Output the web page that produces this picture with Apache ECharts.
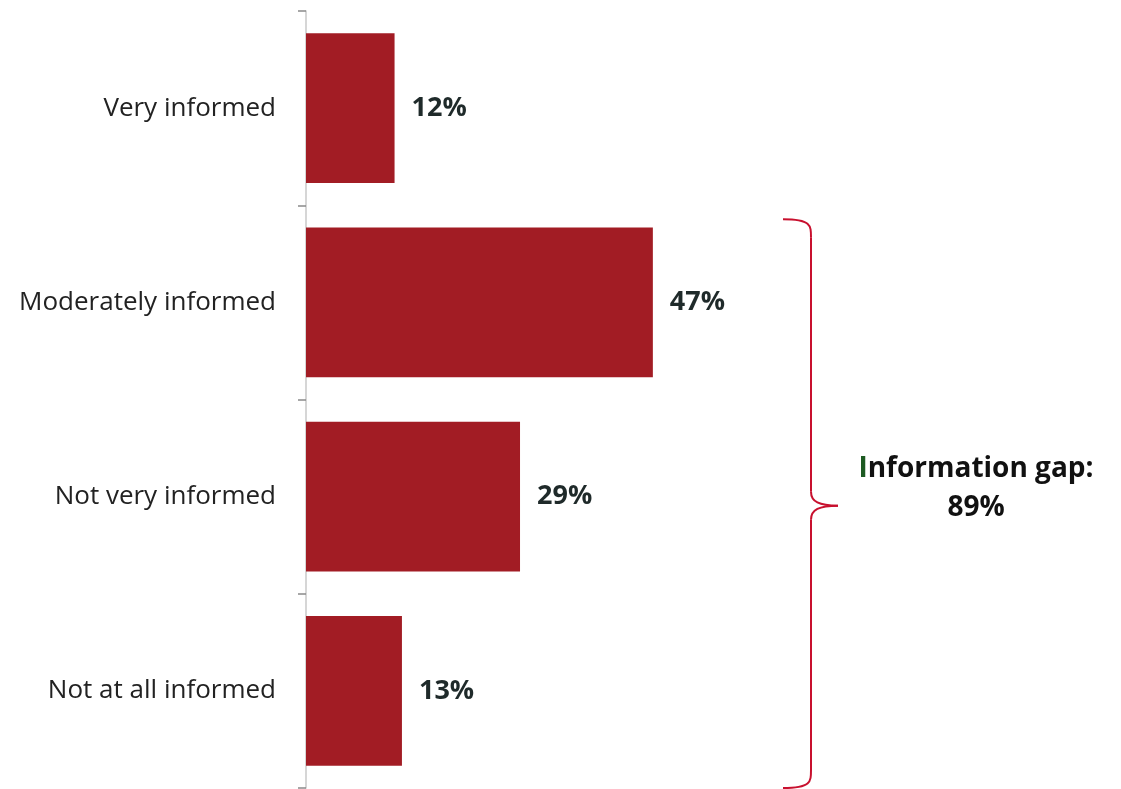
<!DOCTYPE html>
<html><head><meta charset="utf-8">
<script src="https://cdn.jsdelivr.net/npm/echarts@6/dist/echarts.min.js"></script>
<style>html,body{margin:0;padding:0;background:#fff}#c{width:1121px;height:789px}</style>
</head><body><div id="c"></div>
<script>
const categories = ['Very informed', 'Moderately informed', 'Not very informed', 'Not at all informed'];
const values = [12, 47, 29, 13];
const gapLabel = 'Information gap:';
const gapValue = '89%';
const braceFrom = 1, braceTo = 3;

const chart = echarts.init(document.getElementById('c'));
const FONT = '"Open Sans", "Noto Sans", sans-serif';
chart.setOption({
  animation: false,
  grid: { left: 306, right: 77, top: 11, bottom: 1 },
  xAxis: { type: 'value', min: 0, max: 100, show: false },
  yAxis: {
    type: 'category', data: categories, inverse: true,
    axisLine: { show: true, lineStyle: { color: '#c8c8c8', width: 1.5 } },
    axisTick: { show: true, inside: false, length: 8, lineStyle: { color: '#8a8a8a', width: 1.5 } },
    axisLabel: { fontSize: 26, color: '#222', fontFamily: FONT, margin: 30 }
  },
  series: [{
    type: 'bar', data: values, barCategoryGap: '23%',
    itemStyle: { color: '#a21c24' },
    label: { show: true, position: 'right', distance: 17, formatter: '{c}%',
      fontSize: 27, fontWeight: 'bold', color: '#1f2a2a', fontFamily: FONT }
  }]
});

const band = 777 / categories.length;
const topY = chart.convertToPixel({ yAxisIndex: 0 }, categories[braceFrom]) - band / 2 + 14;
const botY = chart.convertToPixel({ yAxisIndex: 0 }, categories[braceTo]) + band / 2;
const midY = (topY + botY) / 2 + 2;
const xe = 783, xv = 811, xt = 838;
const st = { fill: null, stroke: '#c8102e', lineWidth: 2 };
const curve = (x1, y1, c1x, c1y, c2x, c2y, x2, y2) => ({ type: 'bezierCurve',
  shape: { x1, y1, cpx1: c1x, cpy1: c1y, cpx2: c2x, cpy2: c2y, x2, y2 }, style: st });
const line = (x1, y1, x2, y2) => ({ type: 'line', shape: { x1, y1, x2, y2 }, style: st });

chart.setOption({
  graphic: [
    curve(xe, topY, xv, topY, xv, topY + 6, xv, topY + 18),
    line(xv, topY + 18, xv, midY - 14),
    curve(xv, midY - 14, xv, midY - 4, xv + 8, midY, xt, midY),
    curve(xt, midY, xv + 8, midY, xv, midY + 4, xv, midY + 14),
    line(xv, midY + 14, xv, botY - 18),
    curve(xv, botY - 18, xv, botY - 6, xv, botY, xe, botY),
    { type: 'text', x: 976, y: midY - 56, style: {
        text: '{g|I}{b|' + gapLabel.slice(1) + '}\n{b|' + gapValue + '}',
        align: 'center', verticalAlign: 'top', lineHeight: 39,
        rich: {
          g: { fontSize: 28, fontWeight: 'bold', fill: '#1d5a22', fontFamily: FONT, lineHeight: 39 },
          b: { fontSize: 28, fontWeight: 'bold', fill: '#111', fontFamily: FONT, lineHeight: 39 }
        } } }
  ]
});
</script></body></html>
